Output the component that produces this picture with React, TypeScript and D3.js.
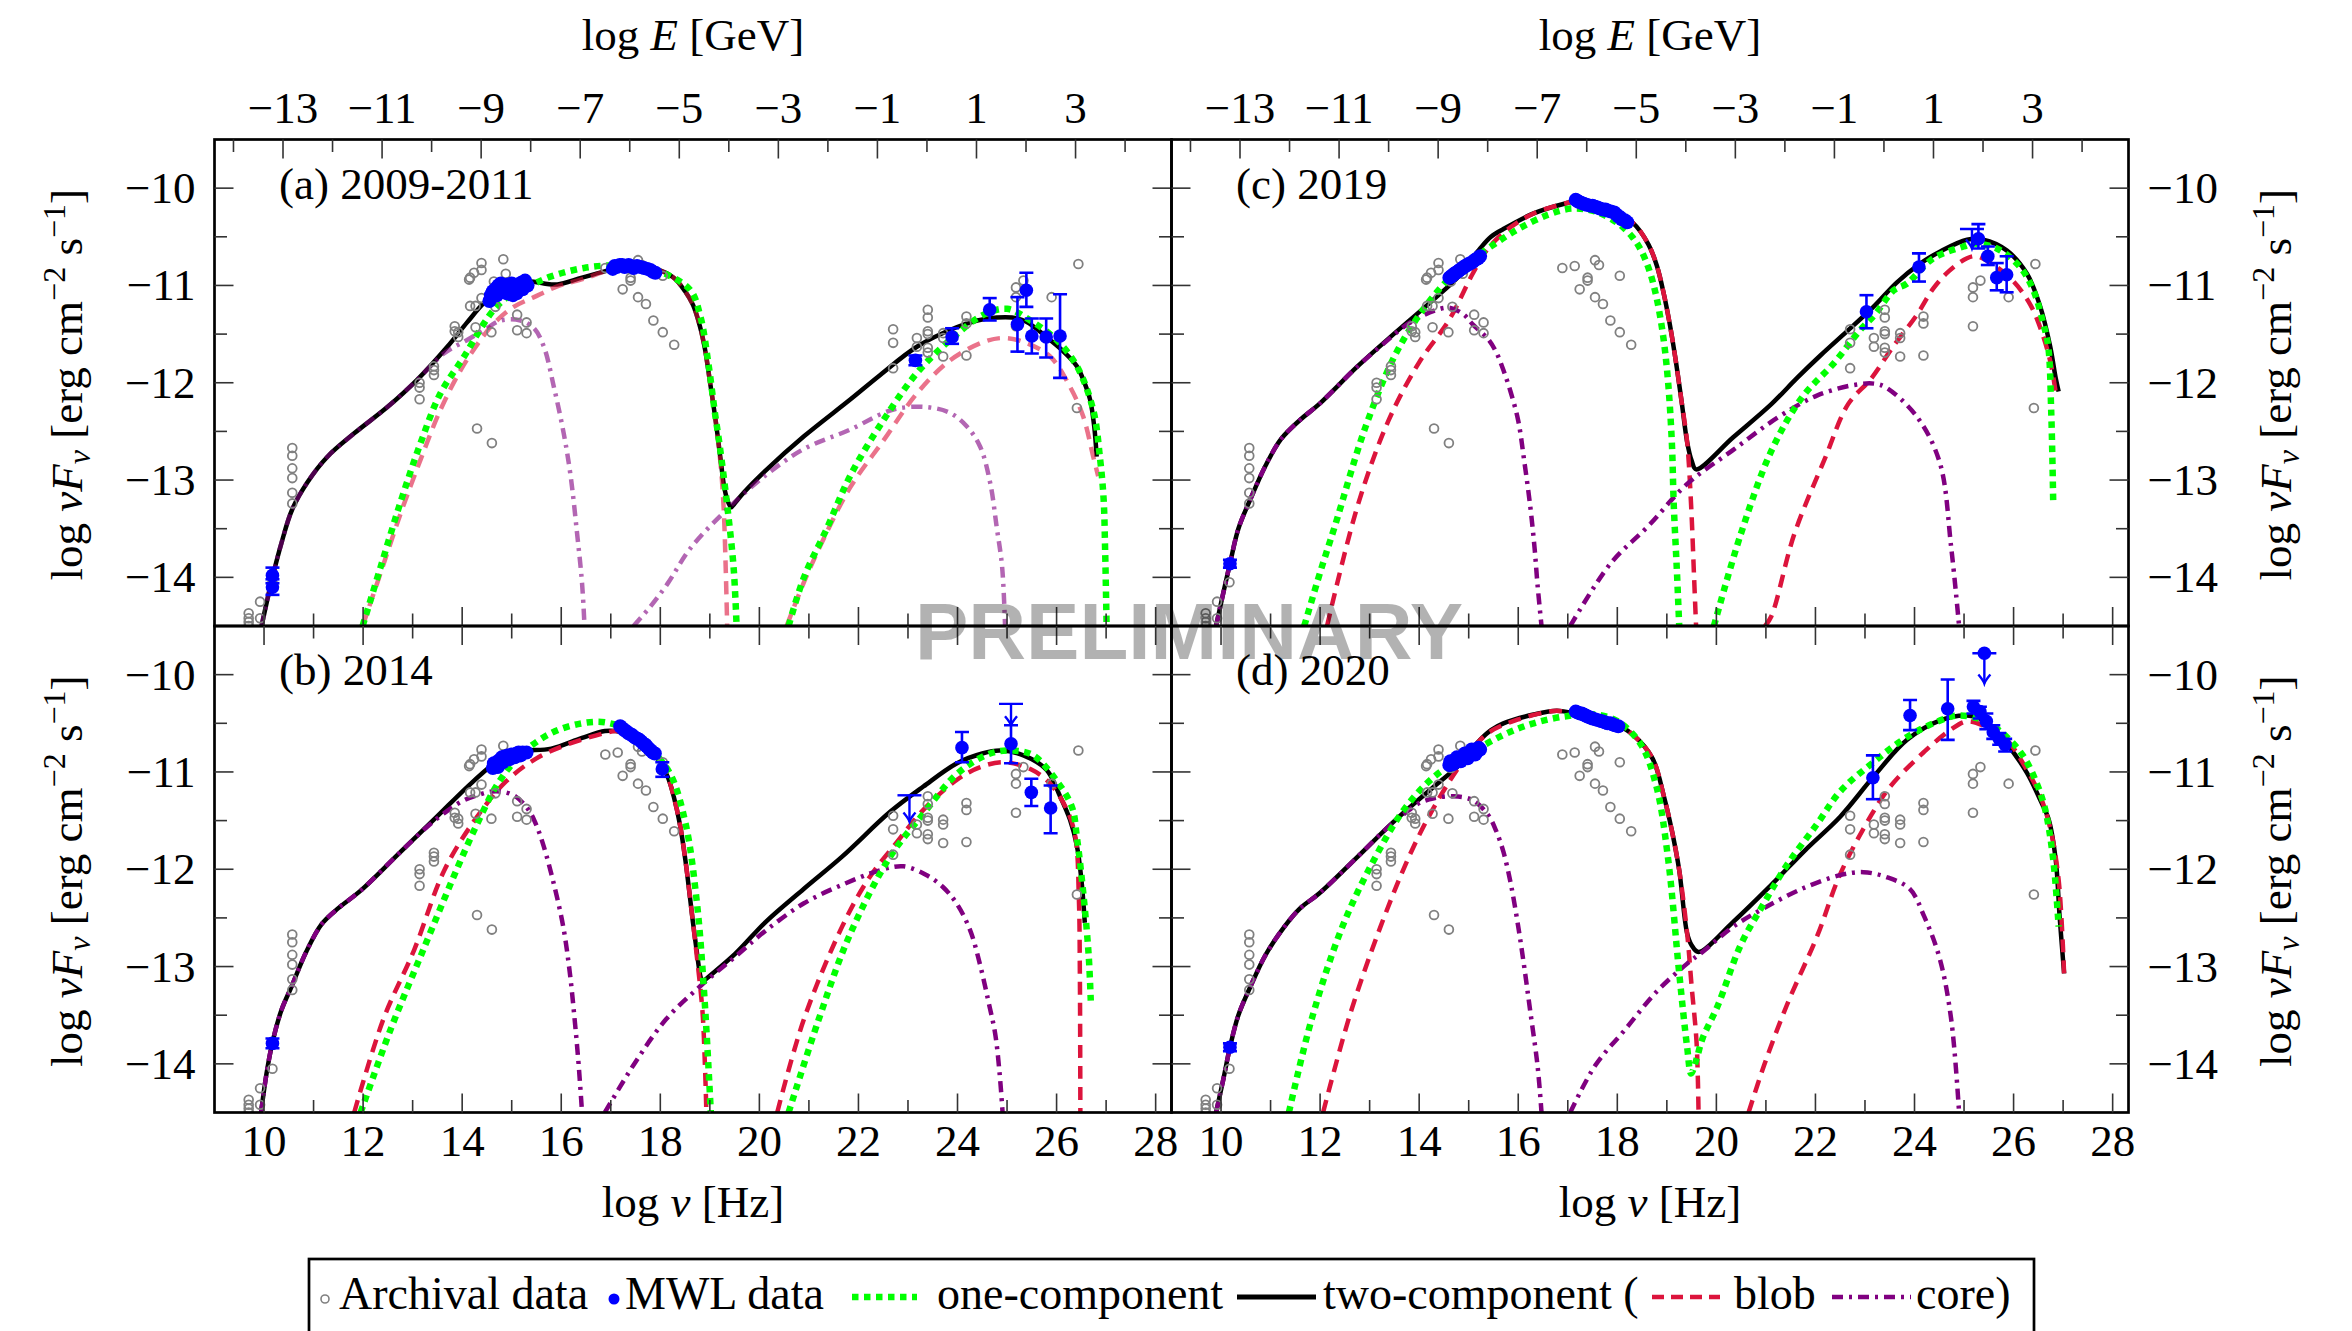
import React from "react";
import * as d3 from "d3";

type Pt = [number, number];
type ErrPt = [number, number, number, number]; // log nu, value, upper, lower
type UpperLim = [number, number, number]; // log nu, limit, arrow tip

const X_DOMAIN: Pt = [9, 28.32];
const Y_DOMAIN: Pt = [-14.5, -9.5];
const LOG_H_GEV_S = -23.383; // log10(h) in GeV s, links the two x axes

const yTickLabels = [-14, -13, -12, -11, -10];
const nuTickLabels = [10, 12, 14, 16, 18, 20, 22, 24, 26, 28];
const eTickLabels = [-13, -11, -9, -7, -5, -3, -1, 1, 3];

// archival measurements (same in all panels)
const archival: Pt[] = [
  [9.69, -14.37], [9.69, -14.42], [9.69, -14.46], [9.69, -14.5], [9.92, -14.25], [9.92, -14.42], [10.17, -14.05],
  [10.57, -12.67], [10.57, -12.75], [10.57, -12.88], [10.57, -12.98], [10.57, -13.13], [10.57, -13.24],
  [13.14, -12.0], [13.14, -12.05], [13.14, -12.17], [13.43, -11.83], [13.43, -11.87], [13.43, -11.92],
  [13.85, -11.42], [13.85, -11.47], [13.92, -11.48], [13.92, -11.53],
  [14.14, -10.94], [14.16, -10.92], [14.24, -10.87], [14.16, -11.21], [14.27, -11.21], [14.27, -11.43],
  [14.39, -11.13], [14.39, -10.77], [14.39, -10.84], [14.3, -12.47], [14.6, -12.62],
  [14.59, -11.48], [14.64, -10.96], [14.67, -11.22], [14.83, -10.73], [14.88, -10.88],
  [15.11, -11.3], [15.11, -11.46], [15.3, -11.38], [15.3, -11.49],
  [16.89, -10.82], [17.14, -10.8], [17.55, -10.74], [17.63, -10.79], [17.4, -10.92], [17.4, -10.95],
  [17.24, -11.04], [17.55, -11.12], [17.71, -11.19], [17.86, -11.36], [18.05, -11.48], [18.28, -11.61], [18.05, -10.9],
  [22.7, -11.45], [22.7, -11.59], [22.7, -11.85], [23.18, -11.54], [23.18, -11.63],
  [23.4, -11.25], [23.4, -11.33], [23.4, -11.47], [23.4, -11.5], [23.4, -11.64], [23.4, -11.69],
  [23.71, -11.49], [23.71, -11.54], [23.71, -11.73], [24.18, -11.32], [24.18, -11.39], [24.18, -11.72],
  [25.18, -11.02], [25.18, -11.12], [25.18, -11.42], [25.33, -10.95], [25.9, -11.12], [26.44, -10.78], [26.41, -12.26],
];

// ---------- (a) 2009-2011 ----------
const twoA: Pt[] = [
  [9.95, -14.5], [10.17, -14.0], [10.35, -13.65], [10.57, -13.3], [10.88, -13.02], [11.28, -12.76], [11.82, -12.52],
  [12.49, -12.25], [13.09, -11.97], [13.7, -11.63], [14.1, -11.38], [14.44, -11.18], [14.78, -11.04], [15.1, -10.97],
  [15.38, -10.96], [15.65, -10.98], [15.92, -10.99], [16.42, -10.92], [17.0, -10.84], [17.5, -10.81], [17.9, -10.83],
  [18.27, -10.92], [18.5, -11.06], [18.66, -11.2], [18.8, -11.42], [18.9, -11.65], [19.0, -11.98], [19.12, -12.4],
  [19.22, -12.8], [19.3, -13.1], [19.38, -13.24], [19.43, -13.28], [19.5, -13.24], [19.7, -13.12], [20.13, -12.9],
  [20.9, -12.55], [21.84, -12.17], [22.44, -11.92], [23.18, -11.63], [23.98, -11.43], [24.4, -11.36], [24.79, -11.33],
  [25.1, -11.33], [25.38, -11.37], [25.87, -11.56], [26.1, -11.66], [26.41, -11.83], [26.6, -12.05], [26.68, -12.18],
  [26.76, -12.45], [26.81, -12.76],
];
const oneSyncA: Pt[] = [
  [11.99, -14.5], [12.35, -13.9], [12.76, -13.22], [13.16, -12.62], [13.56, -12.11], [14.04, -11.73], [14.44, -11.39],
  [14.64, -11.25], [14.91, -11.12], [15.38, -11.0], [15.78, -10.91], [16.46, -10.82], [17.13, -10.79], [17.6, -10.8],
  [18.14, -10.89], [18.61, -11.05], [18.81, -11.32], [18.97, -11.8], [19.1, -12.3], [19.2, -12.65], [19.35, -13.26],
  [19.48, -13.9], [19.54, -14.5],
];
const oneIcA: Pt[] = [
  [20.59, -14.5], [20.9, -14.0], [21.36, -13.5], [21.84, -12.95], [22.51, -12.38], [23.18, -11.9], [23.85, -11.56],
  [24.53, -11.3], [25.0, -11.24], [25.47, -11.36], [26.0, -11.56], [26.41, -11.83], [26.74, -12.28], [26.88, -12.79],
  [26.95, -13.2], [26.98, -13.72], [27.01, -14.5],
];
const blobSyncA: Pt[] = [
  [11.99, -14.5], [12.35, -13.96], [12.76, -13.34], [13.16, -12.79], [13.56, -12.28], [13.97, -11.87], [14.37, -11.56],
  [14.64, -11.39], [15.04, -11.22], [15.45, -11.12], [15.92, -11.01], [16.46, -10.93], [17.0, -10.84], [17.5, -10.81],
  [17.9, -10.83], [18.27, -10.92], [18.5, -11.06], [18.66, -11.2], [18.8, -11.42], [18.9, -11.65], [19.0, -11.98],
  [19.12, -12.4], [19.22, -12.85], [19.28, -13.3], [19.32, -13.9], [19.35, -14.5],
];
const blobIcA: Pt[] = [
  [20.55, -14.5], [20.9, -14.05], [21.3, -13.6], [21.84, -13.07], [22.51, -12.59], [23.18, -12.11], [23.85, -11.77],
  [24.53, -11.58], [24.93, -11.54], [25.33, -11.58], [25.87, -11.73], [26.27, -12.04], [26.54, -12.35], [26.74, -12.76],
  [26.84, -12.96],
];
const coreSyncA: Pt[] = [
  [9.95, -14.5], [10.17, -14.0], [10.35, -13.65], [10.57, -13.3], [10.88, -13.02], [11.28, -12.76], [11.82, -12.52],
  [12.49, -12.25], [13.09, -11.97], [13.63, -11.7], [14.1, -11.56], [14.44, -11.46], [14.78, -11.36], [15.18, -11.36],
  [15.45, -11.44], [15.65, -11.63], [15.85, -12.04], [16.05, -12.52], [16.19, -12.96], [16.32, -13.55], [16.42, -14.06],
  [16.47, -14.5],
];
const coreIcA: Pt[] = [
  [17.46, -14.5], [17.8, -14.3], [18.14, -14.07], [18.61, -13.7], [19.35, -13.3], [20.13, -12.95], [20.9, -12.68],
  [21.84, -12.48], [22.51, -12.31], [22.84, -12.26], [23.38, -12.25], [23.85, -12.31], [24.19, -12.45], [24.46, -12.66],
  [24.66, -13.03], [24.79, -13.48], [24.9, -13.89], [24.96, -14.5],
];
const opticalA: Pt[] = [
  [14.55, -11.16], [14.58, -11.1], [14.6, -11.12], [14.62, -11.06], [14.64, -11.07], [14.68, -11.03], [14.7, -11.1],
  [14.73, -11.0], [14.78, -10.98], [14.8, -11.06], [14.84, -11.03], [14.9, -11.08], [14.92, -10.99], [14.95, -11.02],
  [15.0, -10.98], [15.02, -11.1], [15.05, -11.05], [15.1, -11.08], [15.12, -10.99], [15.15, -11.0], [15.2, -10.97],
  [15.22, -11.04], [15.27, -10.95], [15.32, -11.0],
];
const xrayA: Pt[] = [
  [17.04, -10.83], [17.08, -10.8], [17.12, -10.81], [17.18, -10.79], [17.23, -10.79], [17.28, -10.81], [17.32, -10.8],
  [17.36, -10.79], [17.4, -10.8], [17.46, -10.82], [17.53, -10.8], [17.6, -10.81], [17.67, -10.82], [17.74, -10.83],
  [17.8, -10.84], [17.85, -10.86], [17.9, -10.87],
];
const errA: ErrPt[] = [
  [10.17, -13.98, -13.9, -14.06], [10.17, -14.1, -14.02, -14.18],
  [23.15, -11.77, -11.72, -11.82], [23.89, -11.53, -11.44, -11.6], [24.65, -11.25, -11.13, -11.36],
  [25.39, -11.05, -10.87, -11.22], [25.21, -11.4, -11.12, -11.68], [25.5, -11.52, -11.34, -11.7],
  [25.79, -11.53, -11.34, -11.74], [26.07, -11.52, -11.09, -11.95],
];
const ulA: UpperLim[] = [];

// ---------- (b) 2014 ----------
const twoB: Pt[] = [
  [9.94, -14.5], [10.05, -14.1], [10.17, -13.78], [10.35, -13.45], [10.56, -13.2], [10.85, -12.85], [11.17, -12.56],
  [11.5, -12.4], [11.95, -12.22], [12.72, -11.84], [13.49, -11.46], [14.11, -11.15], [14.65, -10.91], [15.0, -10.8],
  [15.3, -10.78], [15.8, -10.76], [16.42, -10.65], [16.88, -10.58], [17.1, -10.58], [17.27, -10.6], [17.66, -10.72],
  [17.97, -10.88], [18.15, -11.05], [18.27, -11.25], [18.4, -11.55], [18.51, -11.92], [18.66, -12.55], [18.75, -12.9],
  [18.81, -13.1], [18.86, -13.16], [18.92, -13.13], [19.51, -12.87], [20.13, -12.54], [20.9, -12.2], [21.67, -11.87],
  [22.64, -11.41], [23.31, -11.15], [23.99, -10.91], [24.5, -10.81], [24.86, -10.78], [25.33, -10.83], [25.8, -10.98],
  [26.07, -11.25], [26.27, -11.49], [26.41, -11.76], [26.5, -12.1], [26.57, -12.55],
];
const oneSyncB: Pt[] = [
  [11.95, -14.5], [12.56, -13.64], [13.18, -12.87], [13.8, -12.11], [14.26, -11.58], [14.72, -11.12], [15.19, -10.82],
  [15.8, -10.6], [16.42, -10.5], [16.88, -10.49], [17.35, -10.57], [17.81, -10.77], [18.2, -11.02], [18.51, -11.53],
  [18.74, -12.35], [18.89, -13.31], [19.02, -14.5],
];
const oneIcB: Pt[] = [
  [20.59, -14.5], [21.2, -13.54], [21.82, -12.68], [22.64, -11.87], [23.31, -11.43], [23.99, -11.02], [24.66, -10.81],
  [25.13, -10.78], [25.53, -10.83], [26.0, -11.09], [26.31, -11.36], [26.41, -11.67], [26.55, -12.3], [26.65, -12.9],
  [26.69, -13.35],
];
const blobSyncB: Pt[] = [
  [11.82, -14.5], [12.41, -13.54], [13.03, -12.83], [13.64, -12.01], [14.26, -11.49], [14.88, -11.1], [15.5, -10.86],
  [16.11, -10.72], [16.88, -10.6], [17.1, -10.58], [17.27, -10.6], [17.66, -10.72], [17.97, -10.88], [18.15, -11.05],
  [18.27, -11.25], [18.4, -11.55], [18.51, -11.92], [18.66, -12.55], [18.75, -12.95], [18.85, -13.45], [18.9, -14.0],
  [18.93, -14.5],
];
const blobIcB: Pt[] = [
  [20.36, -14.5], [20.9, -13.54], [21.67, -12.59], [22.2, -12.1], [22.78, -11.72], [23.31, -11.39], [23.99, -11.08],
  [24.46, -10.95], [24.93, -10.9], [25.47, -10.97], [25.87, -11.12], [26.21, -11.39], [26.38, -11.67], [26.45, -12.3],
  [26.47, -13.07], [26.48, -14.5],
];
const coreSyncB: Pt[] = [
  [9.94, -14.5], [10.05, -14.1], [10.17, -13.78], [10.35, -13.45], [10.56, -13.2], [10.85, -12.85], [11.17, -12.56],
  [11.5, -12.4], [11.95, -12.22], [12.72, -11.84], [13.3, -11.56], [13.7, -11.4], [14.0, -11.3], [14.3, -11.24],
  [14.6, -11.2], [14.88, -11.21], [15.1, -11.26], [15.34, -11.39], [15.5, -11.55], [15.65, -11.77], [15.85, -12.15],
  [16.04, -12.59], [16.17, -13.05], [16.27, -13.54], [16.35, -14.0], [16.42, -14.5],
];
const coreIcB: Pt[] = [
  [16.88, -14.5], [17.5, -13.98], [18.12, -13.54], [18.81, -13.2], [19.51, -12.9], [20.13, -12.63], [20.9, -12.35],
  [21.67, -12.16], [22.44, -12.01], [22.91, -11.97], [23.37, -12.06], [23.7, -12.18], [23.98, -12.35], [24.25, -12.62],
  [24.45, -12.97], [24.62, -13.35], [24.76, -13.69], [24.85, -14.1], [24.91, -14.5],
];
const opticalB: Pt[] = [
  [14.62, -10.96], [14.64, -10.91], [14.66, -10.92], [14.7, -10.9], [14.72, -10.95], [14.75, -10.88], [14.8, -10.85],
  [14.82, -10.9], [14.86, -10.84], [14.92, -10.83], [14.95, -10.87], [15.0, -10.82], [15.06, -10.85], [15.1, -10.81],
  [15.14, -10.8], [15.18, -10.83], [15.22, -10.8], [15.3, -10.8],
];
const xrayB: Pt[] = [
  [17.19, -10.53], [17.23, -10.55], [17.27, -10.57], [17.31, -10.58], [17.35, -10.6], [17.39, -10.61], [17.43, -10.62],
  [17.47, -10.64], [17.5, -10.65], [17.54, -10.66], [17.58, -10.67], [17.62, -10.69], [17.66, -10.71], [17.7, -10.72],
  [17.73, -10.74], [17.77, -10.76], [17.81, -10.78], [17.85, -10.8], [17.89, -10.81],
];
const errB: ErrPt[] = [
  [10.17, -13.79, -13.74, -13.84], [18.04, -10.97, -10.9, -11.05],
  [24.09, -10.75, -10.59, -10.9], [25.08, -10.71, -10.52, -10.91], [25.49, -11.21, -11.07, -11.35],
  [25.88, -11.37, -11.14, -11.63],
];
const ulB: UpperLim[] = [[23.03, -11.24, -11.51], [25.08, -10.3, -10.52]];

// ---------- (c) 2019 ----------
const twoC: Pt[] = [
  [9.9, -14.5], [10.05, -14.15], [10.18, -13.86], [10.35, -13.5], [10.59, -13.2], [10.9, -12.85], [11.21, -12.58],
  [11.6, -12.38], [11.98, -12.22], [12.76, -11.83], [13.53, -11.48], [14.3, -11.14], [14.77, -10.92], [15.0, -10.77],
  [15.23, -10.62], [15.45, -10.5], [15.7, -10.42], [16.31, -10.26], [16.93, -10.16], [17.24, -10.13], [17.55, -10.17],
  [17.86, -10.23], [18.32, -10.36], [18.63, -10.58], [18.8, -10.8], [18.94, -11.09], [19.06, -11.4], [19.17, -11.74],
  [19.3, -12.2], [19.41, -12.61], [19.5, -12.8], [19.59, -12.89], [20.34, -12.56], [21.11, -12.22], [21.63, -11.95],
  [22.1, -11.72], [22.64, -11.47], [23.17, -11.22], [23.64, -10.97], [24.1, -10.78], [24.52, -10.65], [25.06, -10.53],
  [25.39, -10.53], [25.86, -10.64], [26.27, -10.88], [26.54, -11.22], [26.74, -11.63], [26.85, -11.95], [26.91, -12.09],
];
const oneSyncC: Pt[] = [
  [11.68, -14.5], [12.0, -13.95], [12.3, -13.47], [12.92, -12.45], [13.53, -11.7], [14.15, -11.2], [14.77, -10.85],
  [15.39, -10.62], [16.0, -10.42], [16.62, -10.27], [17.08, -10.21], [17.55, -10.24], [18.01, -10.36], [18.3, -10.5],
  [18.48, -10.64], [18.65, -10.85], [18.79, -11.12], [18.92, -11.5], [19.02, -11.96], [19.1, -12.6], [19.14, -13.26],
  [19.2, -13.9], [19.25, -14.5],
];
const oneIcC: Pt[] = [
  [19.95, -14.5], [20.49, -13.56], [21.11, -12.7], [21.73, -12.15], [22.37, -11.8], [22.9, -11.46], [23.2, -11.3],
  [23.58, -11.05], [23.85, -10.98], [24.38, -10.72], [24.99, -10.6], [25.19, -10.57], [25.66, -10.62], [26.13, -10.81],
  [26.4, -11.05], [26.6, -11.39], [26.7, -11.63], [26.76, -12.3], [26.8, -13.23],
];
const blobSyncC: Pt[] = [
  [12.14, -14.5], [12.76, -13.26], [13.38, -12.39], [14.0, -11.79], [14.61, -11.35], [15.08, -10.88], [15.39, -10.62],
  [15.85, -10.4], [16.31, -10.26], [16.93, -10.16], [17.24, -10.13], [17.55, -10.17], [17.86, -10.23], [18.32, -10.36],
  [18.63, -10.58], [18.8, -10.8], [18.94, -11.09], [19.06, -11.4], [19.17, -11.74], [19.3, -12.2], [19.41, -12.61],
  [19.49, -13.26], [19.55, -14.0], [19.59, -14.5],
];
const blobIcC: Pt[] = [
  [20.98, -14.5], [21.11, -14.4], [21.57, -13.56], [22.19, -12.78], [22.66, -12.22], [23.12, -11.96], [23.58, -11.62],
  [24.05, -11.3], [24.38, -11.03], [24.7, -10.85], [25.06, -10.72], [25.25, -10.7], [25.6, -10.79], [26.0, -10.96],
  [26.34, -11.2], [26.57, -11.48], [26.75, -11.8], [26.85, -12.1],
];
const coreSyncC: Pt[] = [
  [9.9, -14.5], [10.05, -14.15], [10.18, -13.86], [10.35, -13.5], [10.59, -13.2], [10.9, -12.85], [11.21, -12.58],
  [11.6, -12.38], [11.98, -12.22], [12.76, -11.83], [13.3, -11.59], [13.7, -11.42], [14.0, -11.33], [14.3, -11.26],
  [14.61, -11.23], [14.9, -11.3], [15.08, -11.4], [15.39, -11.55], [15.55, -11.68], [15.7, -11.87], [15.85, -12.1],
  [16.0, -12.39], [16.12, -12.8], [16.24, -13.26], [16.33, -13.7], [16.39, -14.08], [16.47, -14.5],
];
const coreIcC: Pt[] = [
  [17.05, -14.5], [17.86, -13.86], [18.63, -13.47], [19.41, -13.04], [20.34, -12.69], [21.26, -12.35], [22.04, -12.13],
  [22.81, -12.02], [23.2, -12.01], [23.43, -12.05], [24.05, -12.35], [24.51, -12.82], [24.74, -13.69], [24.9, -14.5],
];
const opticalC: Pt[] = [
  [14.61, -10.92], [14.64, -10.91], [14.66, -10.9], [14.69, -10.89], [14.71, -10.88], [14.74, -10.87], [14.77, -10.86],
  [14.8, -10.85], [14.82, -10.84], [14.85, -10.83], [14.88, -10.82], [14.9, -10.81], [14.93, -10.8], [14.97, -10.79],
  [15.0, -10.78], [15.04, -10.77], [15.08, -10.76], [15.12, -10.74], [15.15, -10.73], [15.19, -10.72], [15.23, -10.7],
];
const xrayC: Pt[] = [
  [17.16, -10.12], [17.19, -10.13], [17.22, -10.14], [17.27, -10.15], [17.32, -10.16], [17.38, -10.17], [17.45, -10.18],
  [17.5, -10.18], [17.55, -10.19], [17.6, -10.2], [17.65, -10.21], [17.71, -10.22], [17.76, -10.22], [17.8, -10.23],
  [17.87, -10.24], [17.94, -10.25], [17.98, -10.27], [18.02, -10.29], [18.06, -10.3], [18.09, -10.32], [18.15, -10.33],
  [18.2, -10.35],
];
const errC: ErrPt[] = [
  [10.18, -13.86, -13.82, -13.9],
  [23.03, -11.27, -11.1, -11.44], [24.09, -10.81, -10.67, -10.96], [25.29, -10.52, -10.37, -10.62],
  [25.48, -10.7, -10.6, -10.79], [25.66, -10.92, -10.77, -11.05], [25.86, -10.89, -10.7, -11.07],
];
const ulC: UpperLim[] = [[25.16, -10.42, -10.62]];

// ---------- (d) 2020 ----------
const twoD: Pt[] = [
  [9.9, -14.5], [10.05, -14.15], [10.18, -13.83], [10.35, -13.5], [10.59, -13.21], [10.9, -12.88], [11.28, -12.59],
  [11.6, -12.4], [11.98, -12.25], [12.76, -11.87], [13.53, -11.49], [14.3, -11.15], [14.85, -10.91], [15.05, -10.78],
  [15.23, -10.67], [15.45, -10.57], [15.7, -10.5], [16.31, -10.41], [16.78, -10.37], [17.24, -10.41], [17.86, -10.48],
  [18.32, -10.62], [18.71, -10.86], [18.94, -11.25], [19.1, -11.6], [19.25, -12.01], [19.41, -12.66], [19.5, -12.78],
  [19.64, -12.85], [20.34, -12.54], [21.11, -12.16], [21.8, -11.8], [22.5, -11.46], [23.17, -11.05], [23.85, -10.67],
  [24.52, -10.47], [25.06, -10.42], [25.39, -10.47], [25.86, -10.71], [26.27, -11.01], [26.54, -11.29], [26.71, -11.49],
  [26.85, -11.9], [26.93, -12.49], [27.02, -13.07],
];
const oneD: Pt[] = [
  [11.37, -14.5], [11.83, -13.54], [12.45, -12.59], [13.07, -11.92], [13.69, -11.39], [14.3, -11.05], [14.93, -10.84],
  [15.7, -10.62], [16.31, -10.5], [16.93, -10.43], [17.55, -10.41], [18.01, -10.48], [18.48, -10.72], [18.79, -11.15],
  [19.02, -11.87], [19.25, -13.07], [19.41, -13.83], [19.49, -14.1], [19.6, -13.95], [19.72, -13.74], [20.03, -13.4],
  [20.49, -12.78], [20.96, -12.35], [21.42, -11.96], [22.04, -11.53], [22.5, -11.2], [23.17, -10.9], [23.85, -10.64],
  [24.52, -10.47], [24.86, -10.42], [25.39, -10.47], [25.86, -10.64], [26.2, -10.84], [26.47, -11.12], [26.64, -11.39],
  [26.8, -11.9], [26.91, -12.59],
];
const blobSyncD: Pt[] = [
  [12.06, -14.5], [12.6, -13.5], [13.22, -12.59], [13.84, -11.82], [14.38, -11.29], [14.93, -10.86], [15.39, -10.6],
  [16.0, -10.46], [16.62, -10.38], [16.78, -10.37], [17.24, -10.41], [17.86, -10.48], [18.32, -10.62], [18.71, -10.86],
  [18.94, -11.25], [19.1, -11.6], [19.25, -12.01], [19.41, -12.66], [19.5, -13.2], [19.6, -13.78], [19.64, -14.5],
];
const blobIcD: Pt[] = [
  [20.65, -14.5], [20.96, -14.02], [21.42, -13.4], [22.04, -12.68], [22.5, -12.05], [23.12, -11.45], [23.51, -11.15],
  [24.18, -10.8], [24.72, -10.57], [25.06, -10.48], [25.46, -10.54], [25.86, -10.67], [26.27, -10.98], [26.54, -11.25],
  [26.75, -11.6], [26.91, -12.11], [27.02, -13.07],
];
const coreSyncD: Pt[] = [
  [9.9, -14.5], [10.05, -14.15], [10.18, -13.83], [10.35, -13.5], [10.59, -13.21], [10.9, -12.88], [11.28, -12.59],
  [11.6, -12.4], [11.98, -12.25], [12.76, -11.87], [13.3, -11.6], [13.7, -11.43], [14.0, -11.32], [14.3, -11.27],
  [14.69, -11.25], [15.08, -11.29], [15.39, -11.44], [15.55, -11.6], [15.7, -11.82], [15.85, -12.15], [16.0, -12.59],
  [16.12, -13.0], [16.24, -13.45], [16.39, -14.02], [16.47, -14.5],
];
const coreIcD: Pt[] = [
  [17.05, -14.5], [17.55, -14.02], [18.17, -13.64], [18.79, -13.26], [19.41, -12.97], [19.72, -12.85], [20.34, -12.59],
  [20.96, -12.4], [21.73, -12.2], [22.5, -12.06], [22.97, -12.03], [23.43, -12.08], [23.9, -12.2], [24.2, -12.49],
  [24.51, -12.92], [24.74, -13.54], [24.9, -14.5],
];
const opticalD: Pt[] = [
  [14.61, -10.93], [14.63, -10.89], [14.66, -10.9], [14.69, -10.92], [14.72, -10.88], [14.76, -10.85], [14.8, -10.86],
  [14.84, -10.89], [14.88, -10.84], [14.92, -10.81], [14.95, -10.82], [14.98, -10.86], [15.02, -10.8], [15.06, -10.77],
  [15.1, -10.78], [15.13, -10.82], [15.17, -10.79], [15.2, -10.75], [15.23, -10.77],
];
const xrayD: Pt[] = [
  [17.16, -10.38], [17.2, -10.39], [17.25, -10.4], [17.28, -10.4], [17.32, -10.41], [17.36, -10.42], [17.4, -10.43],
  [17.45, -10.44], [17.5, -10.45], [17.56, -10.46], [17.63, -10.47], [17.69, -10.48], [17.75, -10.49], [17.8, -10.5],
  [17.86, -10.5], [17.9, -10.51], [17.95, -10.52], [18.02, -10.53],
];
const errD: ErrPt[] = [
  [10.18, -13.83, -13.79, -13.87],
  [23.16, -11.06, -10.83, -11.28], [23.91, -10.42, -10.26, -10.57], [24.67, -10.35, -10.05, -10.67],
  [25.19, -10.33, -10.27, -10.4], [25.32, -10.38, -10.33, -10.45], [25.45, -10.48, -10.4, -10.56],
  [25.59, -10.59, -10.52, -10.66], [25.71, -10.66, -10.6, -10.72], [25.83, -10.72, -10.66, -10.79],
];
const ulD: UpperLim[] = [[25.41, -9.78, -10.09]];

const panels = [
  { title: "(a) 2009-2011", col: 0, row: 0, faded: true, two: twoA, one: [oneSyncA, oneIcA], blob: [blobSyncA, blobIcA], core: [coreSyncA, coreIcA], dots: [...opticalA, ...xrayA], err: errA, ul: ulA, ulDot: false },
  { title: "(b) 2014", col: 0, row: 1, faded: false, two: twoB, one: [oneSyncB, oneIcB], blob: [blobSyncB, blobIcB], core: [coreSyncB, coreIcB], dots: [...opticalB, ...xrayB], err: errB, ul: ulB, ulDot: false },
  { title: "(c) 2019", col: 1, row: 0, faded: false, two: twoC, one: [oneSyncC, oneIcC], blob: [blobSyncC, blobIcC], core: [coreSyncC, coreIcC], dots: [...opticalC, ...xrayC], err: errC, ul: ulC, ulDot: false },
  { title: "(d) 2020", col: 1, row: 1, faded: false, two: twoD, one: [oneD], blob: [blobSyncD, blobIcD], core: [coreSyncD, coreIcD], dots: [...opticalD, ...xrayD], err: errD, ul: ulD, ulDot: true },
];

const GREEN = "#00ff00";
const BLOB = "#dc143c";
const CORE = "#800080";
const BLUE = "#0000ff";
const GREY = "#808080";
const SERIF = '"Liberation Serif", "Times New Roman", serif';

const STYLE_ONE = { stroke: GREEN, strokeWidth: 6.5, strokeDasharray: "6.5 5.5" };
const STYLE_TWO = { stroke: "#000", strokeWidth: 4.5 };
const STYLE_BLOB = { stroke: BLOB, strokeWidth: 4.5, strokeDasharray: "13 8" };
const STYLE_CORE = { stroke: CORE, strokeWidth: 4.5, strokeDasharray: "11 6 3 6" };

const W = 2352;
const H = 1331;
const PW = 957;
const PH = 486.5;
const COL_X = [214.5, 1171.5];
const ROW_Y = [139.5, 626];
const FS = 45;

function fmt(v: number) {
  return v < 0 ? "\u2212" + Math.abs(v) : String(v);
}

function YLabel({ x, y }: { x: number; y: number }) {
  return (
    <text transform={`translate(${x},${y}) rotate(-90)`} textAnchor="middle" fontFamily={SERIF} fontSize={FS}>
      <tspan>log </tspan>
      <tspan fontStyle="italic">νF</tspan>
      <tspan fontStyle="italic" fontSize={32} dy={8}>ν</tspan>
      <tspan dy={-8}> [erg cm</tspan>
      <tspan fontSize={32} dy={-17}>−2</tspan>
      <tspan dy={17}> s</tspan>
      <tspan fontSize={32} dy={-17}>−1</tspan>
      <tspan dy={17}>]</tspan>
    </text>
  );
}

function Panel({ p, idx }: { p: (typeof panels)[number]; idx: number }) {
  const x0 = COL_X[p.col];
  const y0 = ROW_Y[p.row];
  const x = d3.scaleLinear().domain(X_DOMAIN).range([x0, x0 + PW]);
  const y = d3.scaleLinear().domain(Y_DOMAIN).range([y0 + PH, y0]);
  const line = d3
    .line<Pt>()
    .x((d) => x(d[0]))
    .y((d) => y(d[1]))
    .curve(d3.curveCatmullRom.alpha(0.5));
  const clipId = `clip-${idx}`;
  const fade = p.faded ? 0.6 : 1;

  const nuTicks = d3.range(10, 29);
  const eTicks = d3.range(-14, 5).map((e) => ({ e, nu: e - LOG_H_GEV_S })).filter((t) => t.nu < X_DOMAIN[1]);
  const yTicks = d3.range(-14, -9.9, 0.5);
  const MAJ = 19;
  const MIN = 12.5;
  const tickStroke = { stroke: "#333", strokeWidth: 1.6 };

  return (
    <g>
      <defs>
        <clipPath id={clipId}>
          <rect x={x0} y={y0} width={PW} height={PH} />
        </clipPath>
      </defs>
      <g clipPath={`url(#${clipId})`} fill="none">
        <path d={line(p.two) ?? ""} {...STYLE_TWO} />
        {p.blob.map((s, i) => (
          <path key={"b" + i} d={line(s) ?? ""} {...STYLE_BLOB} strokeOpacity={fade} />
        ))}
        {p.core.map((s, i) => (
          <path key={"c" + i} d={line(s) ?? ""} {...STYLE_CORE} strokeOpacity={fade} />
        ))}
        {p.one.map((s, i) => (
          <path key={"o" + i} d={line(s) ?? ""} {...STYLE_ONE} />
        ))}
        {archival.map((d, i) => (
          <circle key={"a" + i} cx={x(d[0])} cy={y(d[1])} r={4.4} stroke={GREY} strokeWidth={1.8} fill="none" />
        ))}
        {p.err.map((d, i) => {
          const cx = x(d[0]);
          return (
            <g key={"e" + i} stroke={BLUE} strokeWidth={2.6}>
              <line x1={cx} x2={cx} y1={y(d[2])} y2={y(d[3])} />
              <line x1={cx - 7} x2={cx + 7} y1={y(d[2])} y2={y(d[2])} />
              <line x1={cx - 7} x2={cx + 7} y1={y(d[3])} y2={y(d[3])} />
              <circle cx={cx} cy={y(d[1])} r={6.8} fill={BLUE} stroke="none" />
            </g>
          );
        })}
        {p.ul.map((d, i) => {
          const cx = x(d[0]);
          const top = y(d[1]);
          const tip = y(d[2]);
          return (
            <g key={"u" + i} stroke={BLUE} strokeWidth={2.4}>
              <line x1={cx - 12} x2={cx + 12} y1={top} y2={top} />
              <line x1={cx} x2={cx} y1={top} y2={tip} />
              <path d={`M${cx - 6},${tip - 9} Q${cx - 1},${tip - 3} ${cx},${tip} Q${cx + 1},${tip - 3} ${cx + 6},${tip - 9}`} fill="none" />
              {p.ulDot && <circle cx={cx} cy={top} r={6.8} fill={BLUE} stroke="none" />}
            </g>
          );
        })}
        {p.dots.map((d, i) => (
          <circle key={"m" + i} cx={x(d[0])} cy={y(d[1])} r={7} fill={BLUE} />
        ))}
      </g>

      {/* frame */}
      <rect x={x0} y={y0} width={PW} height={PH} fill="none" stroke="#000" strokeWidth={2.7} />

      {/* bottom edge ticks */}
      {nuTicks.map((t) => (
        <line key={"bt" + t} x1={x(t)} x2={x(t)} y1={y0 + PH} y2={y0 + PH - (t % 2 === 0 ? MAJ : MIN)} {...tickStroke} />
      ))}
      {/* top edge ticks */}
      {p.row === 0
        ? eTicks.map((t) => (
            <line key={"tt" + t.e} x1={x(t.nu)} x2={x(t.nu)} y1={y0} y2={y0 + (Math.abs(t.e) % 2 === 1 ? MAJ : MIN)} {...tickStroke} />
          ))
        : nuTicks.map((t) => (
            <line key={"tt" + t} x1={x(t)} x2={x(t)} y1={y0} y2={y0 + (t % 2 === 0 ? MAJ : MIN)} {...tickStroke} />
          ))}
      {/* side ticks */}
      {yTicks.map((t) => {
        const len = Number.isInteger(t) ? MAJ : MIN;
        return (
          <g key={"yt" + t} {...tickStroke}>
            <line x1={x0} x2={x0 + len} y1={y(t)} y2={y(t)} />
            <line x1={x0 + PW} x2={x0 + PW - len} y1={y(t)} y2={y(t)} />
          </g>
        );
      })}

      {/* tick labels */}
      <g fontFamily={SERIF} fontSize={FS} fill="#000">
        {yTickLabels.map((t) =>
          p.col === 0 ? (
            <text key={"yl" + t} x={x0 - 19} y={y(t) + 15} textAnchor="end">
              {fmt(t)}
            </text>
          ) : (
            <text key={"yl" + t} x={x0 + PW + 19} y={y(t) + 15} textAnchor="start">
              {fmt(t)}
            </text>
          )
        )}
        {p.row === 1 &&
          nuTickLabels.map((t) => (
            <text key={"xl" + t} x={x(t)} y={y0 + PH + 43} textAnchor="middle">
              {fmt(t)}
            </text>
          ))}
        {p.row === 0 &&
          eTickLabels.map((e) => (
            <text key={"el" + e} x={x(e - LOG_H_GEV_S)} y={y0 - 17} textAnchor="middle">
              {fmt(e)}
            </text>
          ))}
        <text x={x0 + 64.5} y={y0 + 59}>
          {p.title}
        </text>
        {p.row === 0 && (
          <text x={x0 + PW / 2} y={50} textAnchor="middle">
            <tspan>log </tspan>
            <tspan fontStyle="italic">E</tspan>
            <tspan> [GeV]</tspan>
          </text>
        )}
        {p.row === 1 && (
          <text x={x0 + PW / 2} y={1217} textAnchor="middle">
            <tspan>log </tspan>
            <tspan fontStyle="italic">ν</tspan>
            <tspan> [Hz]</tspan>
          </text>
        )}
      </g>
      {p.col === 0 ? <YLabel x={82} y={y0 + PH / 2 + 2} /> : <YLabel x={2291} y={y0 + PH / 2 + 2} />}
    </g>
  );
}

function Legend() {
  const cy = 1297;
  const ty = 1309;
  return (
    <g fontFamily={SERIF} fontSize={46}>
      <rect x={309} y={1259} width={1725} height={100} fill="#fff" stroke="#000" strokeWidth={2.7} />
      <circle cx={325} cy={cy + 2} r={4} fill="none" stroke={GREY} strokeWidth={1.6} />
      <text x={339} y={ty}>Archival data</text>
      <circle cx={614} cy={cy + 2} r={5.5} fill={BLUE} />
      <text x={625} y={ty}>MWL data</text>
      <line x1={852} x2={917} y1={cy} y2={cy} {...STYLE_ONE} />
      <text x={937} y={ty}>one-component</text>
      <line x1={1237} x2={1316} y1={cy} y2={cy} {...STYLE_TWO} strokeWidth={5} />
      <text x={1323} y={ty}>two-component (</text>
      <line x1={1652} x2={1720} y1={cy} y2={cy} {...STYLE_BLOB} strokeDasharray="12 7" />
      <text x={1734} y={ty}>blob</text>
      <line x1={1832} x2={1911} y1={cy} y2={cy} {...STYLE_CORE} />
      <text x={1916} y={ty}>core)</text>
    </g>
  );
}

export default function App() {
  return (
    <svg
      width={W}
      height={H}
      viewBox={`0 0 ${W} ${H}`}
      style={{ position: "absolute", left: 0, top: 0, display: "block", background: "#fff" }}
    >
      <rect x={0} y={0} width={W} height={H} fill="#fff" />
      {panels.map((p, i) => (
        <Panel key={i} p={p} idx={i} />
      ))}
      <Legend />
      <text
        x={915}
        y={659}
        fontFamily='"Liberation Sans", Arial, sans-serif'
        fontWeight="bold"
        fontSize={80}
        textLength={548}
        lengthAdjust="spacingAndGlyphs"
        fill="#000"
        fillOpacity={0.3}
      >
        PRELIMINARY
      </text>
    </svg>
  );
}
